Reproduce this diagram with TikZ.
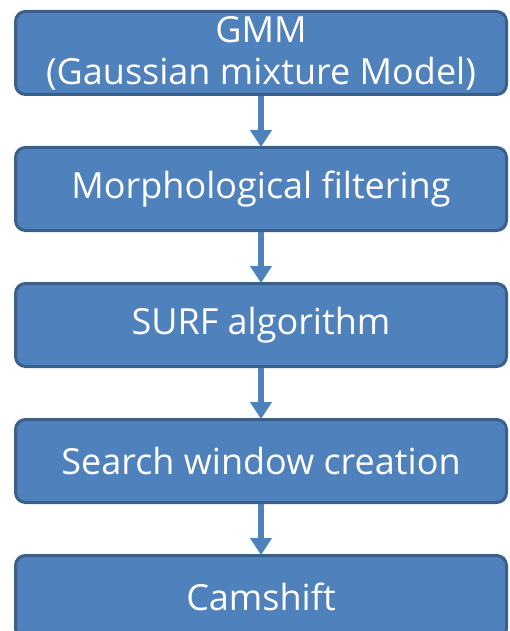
\documentclass[tikz,border=0pt]{standalone}
\usepackage{fontspec}
\setmainfont{Open Sans}
\usetikzlibrary{positioning,arrows.meta}
\definecolor{boxfill}{HTML}{4F81BD}
\definecolor{boxline}{HTML}{3A5F8B}

\begin{document}
\begin{tikzpicture}[
    x=1pt,
    y=1pt,
    font=\fontsize{36}{42}\selectfont,
    stage/.style={
        draw=boxline,
        line width=3pt,
        rounded corners=10pt,
        fill=boxfill,
        text=white,
        minimum width=491pt,
        minimum height=83pt,
        align=center,
        inner sep=0pt
    },
    arr/.style={-{Triangle[width=21pt,length=17pt]}, line width=5.5pt, draw=boxfill, shorten >=-1pt}
]
\useasboundingbox (0,0) rectangle (509,-631);
\clip (0,0) rectangle (509,-631);

% processing chain
\node[stage] (gmm) at (261,-53) {GMM\\(Gaussian mixture Model)};
\node[stage, below=50pt of gmm] (morph) {Morphological filtering};
\node[stage, below=50pt of morph] (surf) {SURF algorithm};
\node[stage, below=50pt of surf] (window) {Search window creation};
\node[stage, below=50pt of window] (cam) {Camshift};

\draw[arr] (gmm) -- (morph);
\draw[arr] (morph) -- (surf);
\draw[arr] (surf) -- (window);
\draw[arr] (window) -- (cam);

\end{tikzpicture}
\end{document}
